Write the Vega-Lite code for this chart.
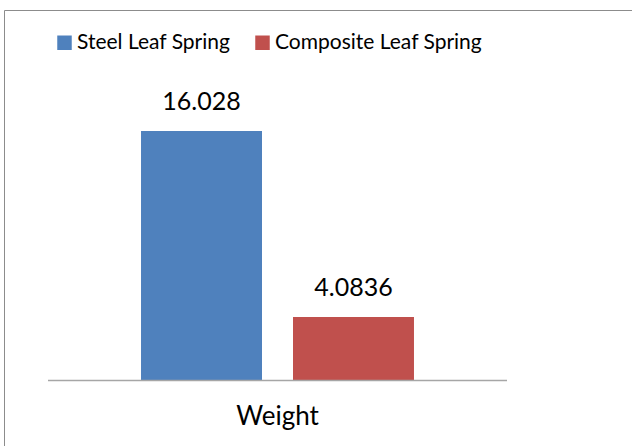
{
  "$schema": "https://vega.github.io/schema/vega-lite/v6.json",
  "width": 631,
  "height": 439,
  "autosize": {"type": "none"},
  "padding": {"left": 4, "top": 10, "right": -3, "bottom": -3},
  "background": "white",
  "config": {"view": {"stroke": "#8c8c8c", "strokeWidth": 1}, "font": "Lato"},
  "data": {"values": [
    {"category": "Weight", "series": "Steel Leaf Spring", "value": 16.028},
    {"category": "Weight", "series": "Composite Leaf Spring", "value": 4.0836}
  ]},
  "encoding": {
    "x": {"field": "category", "type": "nominal", "scale": {"range": [44, 503], "paddingInner": 0, "paddingOuter": 0}, "axis": null}
  },
  "layer": [
    {
      "mark": {"type": "bar"},
      "encoding": {
        "xOffset": {"field": "series", "type": "nominal", "sort": ["Steel Leaf Spring", "Composite Leaf Spring"], "scale": {"paddingInner": 0.204, "paddingOuter": 0.612}},
        "y": {"field": "value", "type": "quantitative", "scale": {"domain": [-4.4, 23.8], "nice": false, "zero": false}, "axis": null},
        "y2": {"datum": 0},
        "color": {
          "field": "series", "type": "nominal",
          "sort": ["Steel Leaf Spring", "Composite Leaf Spring"],
          "scale": {"domain": ["Steel Leaf Spring", "Composite Leaf Spring"], "range": ["#4F81BD", "#C0504D"]},
          "legend": {
            "orient": "none", "legendX": 50, "legendY": 22, "direction": "horizontal", "title": null,
            "symbolType": "square", "symbolSize": 210, "symbolStrokeWidth": 0, "symbolOpacity": 1,
            "labelFontSize": 21, "labelFont": "Lato", "labelColor": "#000000", "labelLimit": 0,
            "columnPadding": 21, "labelOffset": 2, "padding": 0
          }
        }
      }
    },
    {
      "mark": {"type": "text", "dy": -21, "baseline": "alphabetic", "fontSize": 25, "color": "#000000"},
      "encoding": {
        "xOffset": {"field": "series", "type": "nominal", "sort": ["Steel Leaf Spring", "Composite Leaf Spring"]},
        "y": {"field": "value", "type": "quantitative"},
        "text": {"field": "value", "type": "nominal"}
      }
    },
    {
      "transform": [{"filter": "datum.series === 'Steel Leaf Spring'"}],
      "mark": {"type": "rule", "color": "#a6a6a6", "strokeWidth": 1.5},
      "encoding": {
        "x": {"field": "category", "type": "nominal", "bandPosition": 0},
        "x2": {"field": "category", "bandPosition": 1},
        "y": {"datum": 0, "type": "quantitative"}
      }
    },
    {
      "transform": [{"filter": "datum.series === 'Steel Leaf Spring'"}],
      "mark": {"type": "text", "fontSize": 26, "baseline": "alphabetic", "color": "#000000"},
      "encoding": {
        "text": {"field": "category", "type": "nominal"},
        "y": {"datum": -2.86, "type": "quantitative"}
      }
    }
  ]
}
